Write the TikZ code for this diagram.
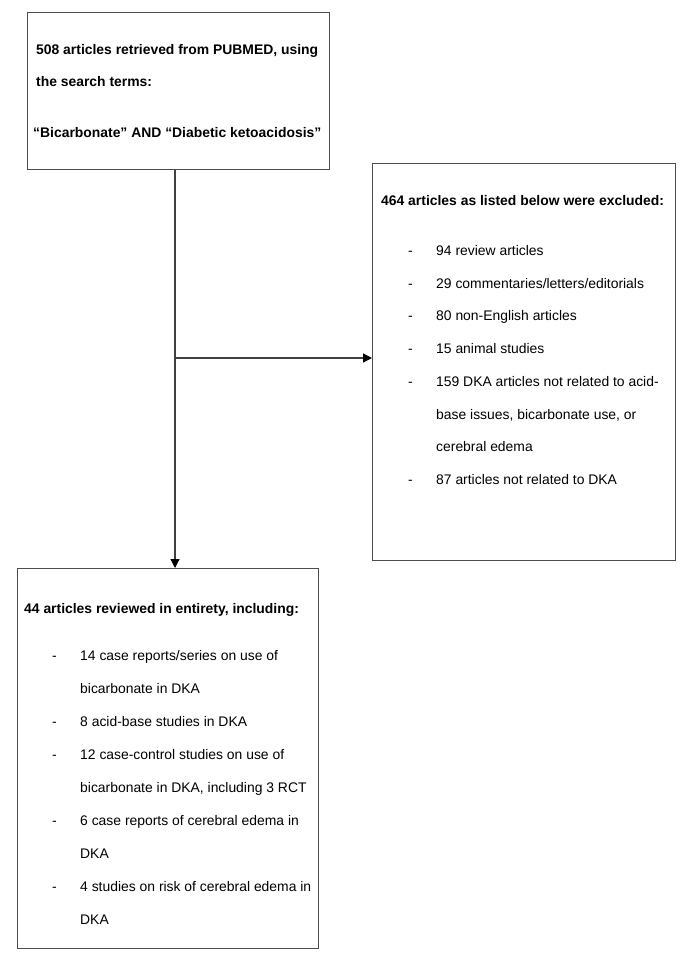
\documentclass[tikz,border=0pt]{standalone}
\usepackage{fontspec}
\setmainfont{Liberation Sans}
\usetikzlibrary{arrows.meta}
\begin{document}
\begin{tikzpicture}[x=1pt,y=-1pt,
  box/.style={draw=black!70, line width=1pt, inner sep=0pt, anchor=north west},
  txt/.style={anchor=base west, inner sep=0pt, font=\fontsize{13.9}{16}\selectfont},
  btxt/.style={txt, font=\fontsize{13.9}{16}\selectfont\bfseries},
  conn/.style={draw=black!75, line width=1.2pt},
  arr/.style={conn, -{Triangle[length=9pt,width=9pt,color=black]}}]
\useasboundingbox (0,0) rectangle (685,963);
% boxes
\node[box, minimum width=302pt, minimum height=157pt] (b1) at (27,12) {};
\node[box, minimum width=303pt, minimum height=397pt] (b2) at (372,163) {};
\node[box, minimum width=301pt, minimum height=380pt] (b3) at (17,568) {};
% box 1 text
\node[btxt] (t11) at (36,55) {508 articles retrieved from PUBMED, using};
\node[btxt] (t12) at (36,87) {the search terms:};
\node[btxt] (t13) at (33,137) {“Bicarbonate” AND “Diabetic ketoacidosis”};
% box 2 text
\node[btxt] (t20) at (381,205) {464 articles as listed below were excluded:};
\foreach \y/\t [count=\i] in {255/{94 review articles},288/{29 commentaries/letters/editorials},320/{80 non-English articles},353/{15 animal studies},386/{159 DKA articles not related to acid-},419/{base issues, bicarbonate use, or},451/{cerebral edema},484/{87 articles not related to DKA}}{
  \node[txt] (t2\i) at (436,\y) {\t};
}
\foreach \y/\n in {255/a,288/b,320/c,353/d,386/e,484/f}{
  \node[txt] (d2\n) at (408,\y) {-};
}
% box 3 text
\node[btxt] (t30) at (24,613) {44 articles reviewed in entirety, including:};
\foreach \y/\t [count=\i] in {660/{14 case reports/series on use of},693/{bicarbonate in DKA},726/{8 acid-base studies in DKA},759/{12 case-control studies on use of},792/{bicarbonate in DKA, including 3 RCT},825/{6 case reports of cerebral edema in},858/{DKA},891/{4 studies on risk of cerebral edema in},924/{DKA}}{
  \node[txt] (t3\i) at (80,\y) {\t};
}
\foreach \y/\n in {660/a,726/b,759/c,825/d,891/e}{
  \node[txt] (d3\n) at (52,\y) {-};
}
% connectors
\coordinate (j) at (175,0);
\coordinate (k) at (175,358);
\draw[arr] (b1.south -| j) -- (b3.north -| j);
\draw[arr] (k) -- (k -| b2.west);
\end{tikzpicture}
\end{document}
